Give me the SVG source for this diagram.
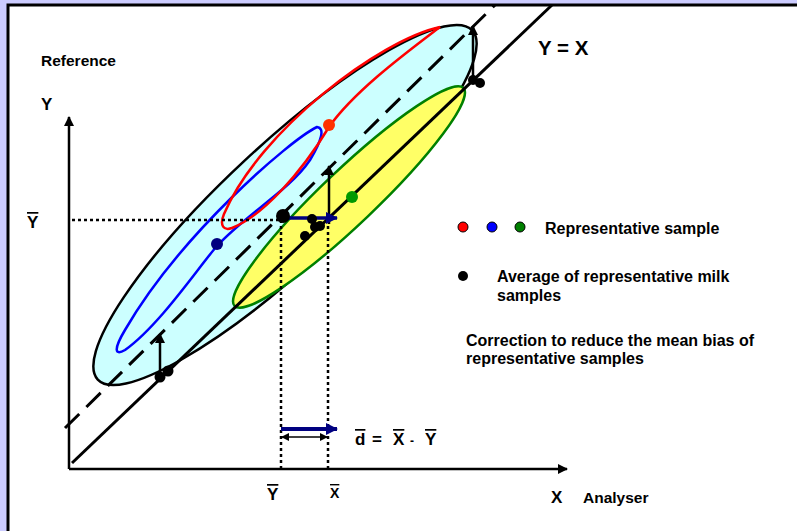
<svg xmlns="http://www.w3.org/2000/svg" width="797" height="531" viewBox="0 0 797 531">
<style>
text{font-family:"Liberation Sans",Arial,sans-serif;font-weight:bold;fill:#000}
.ol{text-decoration:overline}
.ax{stroke:#000;stroke-width:2.5;fill:none}
.dot{stroke:#000;stroke-width:1}
.dotted{stroke:#000;stroke-width:2.5;stroke-dasharray:3 3;fill:none}
</style>
<defs>
<marker id="ah" markerWidth="10" markerHeight="10" refX="9" refY="5" orient="auto" markerUnits="userSpaceOnUse"><path d="M0,0 L10,5 L0,10 Z" fill="#000"/></marker>
<marker id="ahn" markerWidth="12" markerHeight="12" refX="11" refY="6" orient="auto" markerUnits="userSpaceOnUse"><path d="M0,0 L12,6 L0,12 Z" fill="#000080"/></marker>
<marker id="ahs" markerWidth="8" markerHeight="8" refX="7" refY="4" orient="auto-start-reverse" markerUnits="userSpaceOnUse"><path d="M0,0 L8,4 L0,8 Z" fill="#000"/></marker>
</defs>
<rect x="0" y="0" width="797" height="531" fill="#ccccff"/>
<rect x="8" y="5" width="800" height="540" fill="#fff"/>

<g id="ellipse-all"><ellipse cx="285" cy="205" rx="256" ry="60" transform="rotate(-43 285 205)" fill="#ccffff" stroke="#000" stroke-width="2.5"/></g>
<g id="ellipse-green"><ellipse cx="349" cy="197" rx="158" ry="27" transform="rotate(-43.6 349 197)" fill="#ffff66" stroke="#008000" stroke-width="2.5"/></g>
<g id="ellipse-blue"><path d="M317,127 C290,140 180,235 125,330 C113,350 115,356 125,350 C160,325 200,265 217,246 C245,215 290,190 310,160 C322,140 325,128 317,127 Z" fill="none" stroke="#0000ff" stroke-width="2.5"/></g>
<g id="ellipse-red"><path d="M440,27 C380,40 260,130 224,214 C219,226 224,231 232,228 C262,216 300,175 329,127 C355,90 410,50 440,27 Z" fill="none" stroke="#ff0000" stroke-width="2.5"/></g>

<g id="connectors">
<line x1="65" y1="428" x2="495" y2="5" stroke="#000" stroke-width="3" stroke-dasharray="20 10"/>
<line x1="72" y1="463" x2="552" y2="5" stroke="#000" stroke-width="3"/>
<line class="ax" x1="69" y1="469" x2="69" y2="117" marker-end="url(#ah)"/>
<line class="ax" x1="69" y1="469" x2="567" y2="469" marker-end="url(#ah)"/>
<line class="dotted" x1="72" y1="220" x2="283" y2="220"/>
<line class="dotted" x1="281" y1="220" x2="281" y2="469"/>
<line class="dotted" x1="328" y1="220" x2="328" y2="469"/>
<line x1="160" y1="376" x2="160" y2="334" stroke="#000" stroke-width="2.5" marker-end="url(#ah)"/>
<line x1="329" y1="224" x2="329" y2="166" stroke="#000" stroke-width="2.5" marker-end="url(#ah)"/>
<line x1="473" y1="80" x2="473" y2="26" stroke="#000" stroke-width="2.5" marker-end="url(#ah)"/>
<line x1="284" y1="218" x2="337" y2="218" stroke="#000080" stroke-width="3.5" marker-end="url(#ahn)"/>
<line x1="281" y1="429" x2="337" y2="429" stroke="#000080" stroke-width="4" marker-end="url(#ahn)"/>
<line x1="282" y1="437" x2="327" y2="437" stroke="#000" stroke-width="1.3" marker-start="url(#ahs)" marker-end="url(#ahs)"/>
</g>

<g id="points">
<circle cx="329" cy="125" r="6" fill="#ff3300"/>
<circle cx="217" cy="244" r="6" fill="#000080"/>
<circle cx="352" cy="197" r="6" fill="#009900"/>
<circle cx="160" cy="377" r="5.5" fill="#000"/>
<circle cx="168" cy="371" r="5.5" fill="#000"/>
<circle cx="473" cy="80" r="5" fill="#000"/>
<circle cx="480" cy="83" r="5" fill="#000"/>
<circle cx="283" cy="216" r="7" fill="#000"/>
<circle cx="312" cy="219" r="5" fill="#000"/>
<circle cx="315" cy="227" r="5" fill="#000"/>
<circle cx="320" cy="226" r="5" fill="#000"/>
<circle cx="305" cy="236" r="5" fill="#000"/>
</g>

<g id="legend">
<circle class="dot" cx="463" cy="227" r="5" fill="#ff0000"/>
<circle class="dot" cx="492" cy="227" r="5" fill="#0000ff"/>
<circle class="dot" cx="520" cy="227" r="5" fill="#008000"/>
<text x="545" y="234" font-size="16">Representative sample</text>
<circle cx="463" cy="276" r="5" fill="#000"/>
<text x="497" y="282" font-size="16">Average of representative milk</text>
<text x="497" y="301" font-size="16">samples</text>
<text x="466" y="346" font-size="16">Correction to reduce the mean bias of</text>
<text x="466" y="364" font-size="16">representative samples</text>
</g>

<g id="labels">
<text x="41" y="66" font-size="15.5">Reference</text>
<text x="41" y="110" font-size="17">Y</text>
<text x="27" y="228" font-size="17" class="ol">Y</text>
<text x="538" y="55" font-size="20.5">Y = X</text>
<text x="267" y="500" font-size="17" class="ol">Y</text>
<text x="330" y="498" font-size="14" class="ol">X</text>
<text x="551" y="503" font-size="17">X</text>
<text x="583" y="503" font-size="15.5">Analyser</text>
<text y="445" font-size="17"><tspan x="355" class="ol">d</tspan><tspan x="372">=</tspan><tspan x="393" class="ol">X</tspan><tspan x="410" font-size="12">-</tspan><tspan x="425" class="ol">Y</tspan></text>
</g>

<rect x="8" y="5" width="800" height="540" fill="none" stroke="#000" stroke-width="3"/>
</svg>
